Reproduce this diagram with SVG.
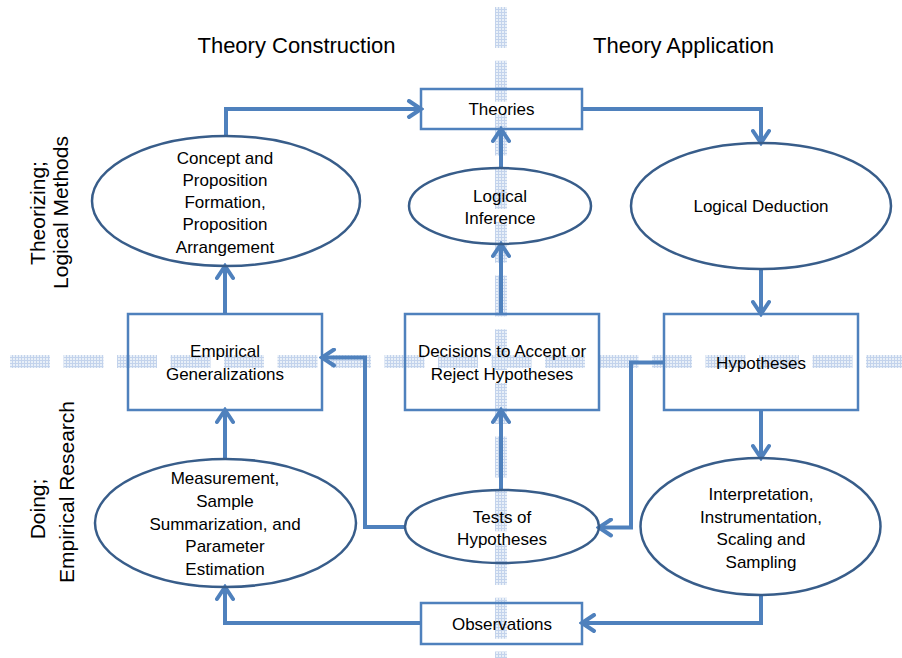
<svg xmlns="http://www.w3.org/2000/svg" width="902" height="658" viewBox="0 0 902 658">
<defs>
  <pattern id="grid" patternUnits="userSpaceOnUse" width="3" height="3">
    <rect width="3" height="3" fill="#e9f0f8"/>
    <rect width="3" height="1" fill="#c3d3ec"/>
    <rect width="1" height="3" fill="#c3d3ec"/>
  </pattern>
  <marker id="arr" markerUnits="userSpaceOnUse" viewBox="0 0 18 20" refX="15" refY="10" markerWidth="18" markerHeight="20" orient="auto">
    <path d="M3,2 L15,10 L3,18" fill="none" stroke="#4f81bd" stroke-width="4" stroke-linecap="round" stroke-linejoin="miter"/>
  </marker>
  <style>
    .box { fill: none; stroke: #4f81bd; stroke-width: 2.5; }
    .ell { fill: none; stroke: #385d8a; stroke-width: 2.5; }
    .con { fill: none; stroke: #4f81bd; stroke-width: 4; marker-end: url(#arr); }
    .t { font-family: "Liberation Sans", Arial, sans-serif; font-size: 17px; fill: #000; text-anchor: middle; }
    .h { font-family: "Liberation Sans", Arial, sans-serif; font-size: 21px; fill: #000; text-anchor: middle; }
    .hh { font-family: "Liberation Sans", Arial, sans-serif; font-size: 22px; fill: #000; text-anchor: middle; }
    .axis { fill: none; stroke: url(#grid); }
  </style>
</defs>
<rect width="902" height="658" fill="#ffffff"/>

<g id="axes">
  <line class="axis" x1="10" y1="361.5" x2="902" y2="361.5" stroke-width="13" stroke-dasharray="40 13.5"/>
  <line class="axis" x1="501" y1="7" x2="501" y2="658" stroke-width="12" stroke-dasharray="41 12.7"/>
</g>

<g id="headers">
  <text class="hh" x="296.5" y="52.5">Theory Construction</text>
  <text class="hh" x="683.5" y="52.5">Theory Application</text>
  <text class="h" transform="translate(45,213) rotate(-90)">Theorizing;</text>
  <text class="h" transform="translate(68,212.5) rotate(-90)">Logical Methods</text>
  <text class="h" transform="translate(45,509) rotate(-90)">Doing;</text>
  <text class="h" transform="translate(74,492) rotate(-90)">Empirical Research</text>
</g>

<g id="connectors">
  <path class="con" d="M226,136 V109 H421"/>
  <path class="con" d="M582,109 H761 V143"/>
  <path class="con" d="M501,168 V129"/>
  <path class="con" d="M501,314 V244"/>
  <path class="con" d="M501,490 V410"/>
  <path class="con" d="M761,269 V314"/>
  <path class="con" d="M761,410 V458"/>
  <path class="con" d="M761,595 V623 H582"/>
  <path class="con" d="M421,623 H225 V587"/>
  <path class="con" d="M225,459 V410"/>
  <path class="con" d="M225,314 V266"/>
  <path class="con" d="M405,527 H365 V357.5 H322"/>
  <path class="con" d="M664,362.5 H631 V527.5 H599"/>
</g>

<g id="theories">
  <rect class="box" x="421" y="89" width="161" height="40"/>
  <text class="t" x="501.5" y="115">Theories</text>
</g>
<g id="logical-inference">
  <ellipse class="ell" cx="500" cy="206" rx="91" ry="38"/>
  <text class="t" x="500" y="202">Logical</text>
  <text class="t" x="500" y="224">Inference</text>
</g>
<g id="logical-deduction">
  <ellipse class="ell" cx="761" cy="206" rx="130" ry="63"/>
  <text class="t" x="761" y="212">Logical Deduction</text>
</g>
<g id="concept">
  <ellipse class="ell" cx="226" cy="201" rx="134" ry="65"/>
  <text class="t" x="225" y="164">Concept and</text>
  <text class="t" x="225" y="186">Proposition</text>
  <text class="t" x="225" y="208">Formation,</text>
  <text class="t" x="225" y="230">Proposition</text>
  <text class="t" x="225" y="252.5">Arrangement</text>
</g>
<g id="empirical-generalizations">
  <rect class="box" x="128" y="314" width="194" height="96"/>
  <text class="t" x="225" y="357">Empirical</text>
  <text class="t" x="225" y="380">Generalizations</text>
</g>
<g id="decisions">
  <rect class="box" x="405" y="314" width="194" height="96"/>
  <text class="t" x="502" y="357">Decisions to Accept or</text>
  <text class="t" x="502" y="379.5">Reject Hypotheses</text>
</g>
<g id="hypotheses">
  <rect class="box" x="664" y="314" width="194" height="96"/>
  <text class="t" x="761" y="369">Hypotheses</text>
</g>
<g id="measurement">
  <ellipse class="ell" cx="225.5" cy="523" rx="130.5" ry="64"/>
  <text class="t" x="225" y="484">Measurement,</text>
  <text class="t" x="225" y="507">Sample</text>
  <text class="t" x="225" y="529.5">Summarization, and</text>
  <text class="t" x="225" y="552">Parameter</text>
  <text class="t" x="225" y="574.5">Estimation</text>
</g>
<g id="tests">
  <ellipse class="ell" cx="502" cy="526.5" rx="97" ry="36.5"/>
  <text class="t" x="502" y="522.5">Tests of</text>
  <text class="t" x="502" y="545">Hypotheses</text>
</g>
<g id="interpretation">
  <ellipse class="ell" cx="760.5" cy="526.5" rx="120" ry="68.5"/>
  <text class="t" x="761" y="500">Interpretation,</text>
  <text class="t" x="761" y="522.5">Instrumentation,</text>
  <text class="t" x="761" y="545">Scaling and</text>
  <text class="t" x="761" y="567.5">Sampling</text>
</g>
<g id="observations">
  <rect class="box" x="421" y="603" width="161" height="41"/>
  <text class="t" x="502" y="630">Observations</text>
</g>
</svg>
